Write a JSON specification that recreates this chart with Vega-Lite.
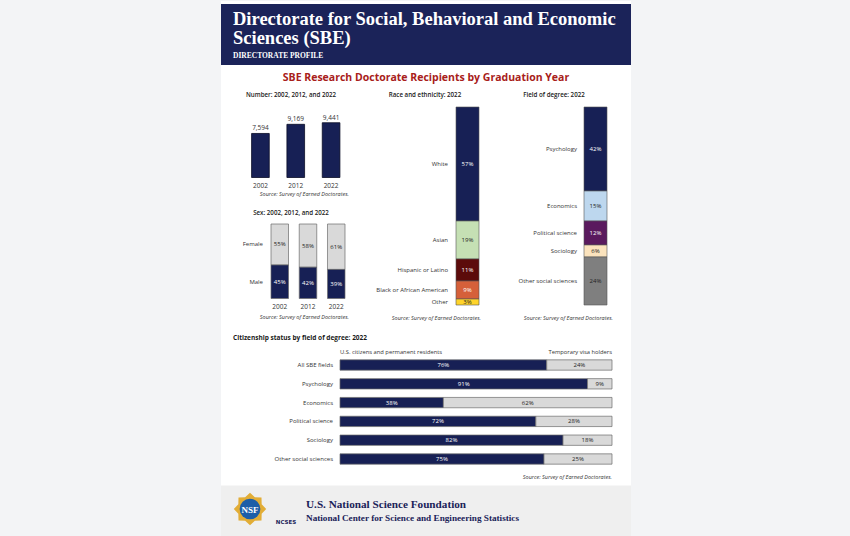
{
  "$schema": "https://vega.github.io/schema/vega-lite/v6.json",
  "width": 850,
  "height": 536,
  "autosize": {"type": "fit", "contains": "padding"},
  "padding": 0,
  "background": "#f3f4f6",
  "config": {"view": {"stroke": null}, "text": {"font": "Open Sans"}},
  "data": {"values": [{}]},
  "resolve": {"scale": {"x": "independent", "y": "independent", "color": "independent"}},
  "layer": [
    {"mark": {"type": "rect", "fill": "white", "x": 220, "x2": 630, "y": 0, "y2": 536}, "encoding": {}},
    {"mark": {"type": "rect", "fill": "#1b2359", "x": 220, "x2": 630, "y": 3, "y2": 64}, "encoding": {}},
    {"mark": {"type": "text", "text": "Directorate for Social, Behavioral and Economic", "font": "Liberation Serif", "fontSize": 18.5, "fontWeight": "bold", "color": "white", "align": "left", "baseline": "alphabetic", "x": 232, "y": 24}, "encoding": {}},
    {"mark": {"type": "text", "text": "Sciences (SBE)", "font": "Liberation Serif", "fontSize": 18.5, "fontWeight": "bold", "color": "white", "align": "left", "baseline": "alphabetic", "x": 232, "y": 43}, "encoding": {}},
    {"mark": {"type": "text", "text": "DIRECTORATE PROFILE", "font": "Liberation Serif", "fontSize": 7.5, "fontWeight": "bold", "color": "white", "align": "left", "baseline": "alphabetic", "x": 232, "y": 57}, "encoding": {}},
    {"mark": {"type": "text", "text": "SBE Research Doctorate Recipients by Graduation Year", "fontSize": 10.5, "fontWeight": "bold", "color": "#a8201a", "align": "center", "x": 425, "y": 77}, "encoding": {}},
    {"mark": {"type": "text", "text": "Number: 2002, 2012, and 2022", "fontSize": 6.2, "fontWeight": 600, "color": "#1a1a1a", "align": "center", "x": 290, "y": 94}, "encoding": {}},
    {"mark": {"type": "text", "text": "Race and ethnicity: 2022", "fontSize": 6.2, "fontWeight": 600, "color": "#1a1a1a", "align": "center", "x": 424, "y": 94}, "encoding": {}},
    {"mark": {"type": "text", "text": "Field of degree: 2022", "fontSize": 6.2, "fontWeight": 600, "color": "#1a1a1a", "align": "center", "x": 553, "y": 94}, "encoding": {}},
    {"mark": {"type": "text", "text": "Sex: 2002, 2012, and 2022", "fontSize": 6.2, "fontWeight": 600, "color": "#1a1a1a", "align": "center", "x": 290, "y": 212}, "encoding": {}},
    {"mark": {"type": "text", "text": "Citizenship status by field of degree: 2022", "fontSize": 6.5, "fontWeight": "bold", "color": "#1a1a1a", "align": "left", "x": 232, "y": 337}, "encoding": {}},
    {"mark": {"type": "text", "text": "U.S. citizens and permanent residents", "fontSize": 5.8, "color": "#333333", "align": "left", "x": 339, "y": 351}, "encoding": {}},
    {"mark": {"type": "text", "text": "Temporary visa holders", "fontSize": 5.8, "color": "#333333", "align": "right", "x": 611, "y": 351}, "encoding": {}},
    {"mark": {"type": "text", "text": "Source: Survey of Earned Doctorates.", "fontSize": 5.5, "fontStyle": "italic", "color": "#333333", "align": "right", "x": 348, "y": 193}, "encoding": {}},
    {"mark": {"type": "text", "text": "Source: Survey of Earned Doctorates.", "fontSize": 5.5, "fontStyle": "italic", "color": "#333333", "align": "right", "x": 348, "y": 316}, "encoding": {}},
    {"mark": {"type": "text", "text": "Source: Survey of Earned Doctorates.", "fontSize": 5.5, "fontStyle": "italic", "color": "#333333", "align": "right", "x": 480, "y": 317}, "encoding": {}},
    {"mark": {"type": "text", "text": "Source: Survey of Earned Doctorates.", "fontSize": 5.5, "fontStyle": "italic", "color": "#333333", "align": "right", "x": 612, "y": 317}, "encoding": {}},
    {"mark": {"type": "text", "text": "Source: Survey of Earned Doctorates.", "fontSize": 5.5, "fontStyle": "italic", "color": "#333333", "align": "right", "x": 611, "y": 476}, "encoding": {}},
    {"mark": {"type": "rule", "color": "#d6d6d6", "strokeWidth": 1.2, "x": 358, "x2": 358, "y": 88, "y2": 323}, "encoding": {}},
    {"mark": {"type": "rule", "color": "#d6d6d6", "strokeWidth": 1.2, "x": 491, "x2": 491, "y": 88, "y2": 323}, "encoding": {}},
    {"mark": {"type": "rule", "color": "#d6d6d6", "strokeWidth": 1.2, "x": 230, "x2": 352, "y": 202.5, "y2": 202.5}, "encoding": {}},
    {"mark": {"type": "rule", "color": "#d6d6d6", "strokeWidth": 1.2, "x": 228, "x2": 622, "y": 326.5, "y2": 326.5}, "encoding": {}},
    {"mark": {"type": "rule", "color": "#d0d0d0", "strokeWidth": 1.5, "x": 242, "x2": 350, "y": 176.8, "y2": 176.8}, "encoding": {}},
    {
      "data": {"values": [{"year": "2002", "n": 7594}, {"year": "2012", "n": 9169}, {"year": "2022", "n": 9441}]},
      "encoding": {
        "x": {"field": "year", "type": "nominal", "axis": null, "scale": {"range": [241.75, 347.75], "paddingInner": 0.5, "paddingOuter": 0.25}},
        "y": {"field": "n", "type": "quantitative", "axis": null, "scale": {"domain": [0, 10000], "range": [176.5, 118.5]}}
      },
      "layer": [
        {"mark": {"type": "bar", "color": "#172055", "stroke": "#0a0d26", "strokeWidth": 0.8}},
        {"mark": {"type": "text", "dy": -5, "fontSize": 6.5, "color": "#333333"}, "encoding": {"text": {"field": "n", "type": "quantitative", "format": ","}}},
        {"mark": {"type": "text", "dy": 8.5, "fontSize": 6.5, "color": "#333333"}, "encoding": {"y": {"datum": 0}, "text": {"field": "year"}}}
      ]
    },
    {
      "data": {"values": [
        {"year": "2002", "sex": "Female", "pct": 0.55}, {"year": "2002", "sex": "Male", "pct": 0.45},
        {"year": "2012", "sex": "Female", "pct": 0.58}, {"year": "2012", "sex": "Male", "pct": 0.42},
        {"year": "2022", "sex": "Female", "pct": 0.61}, {"year": "2022", "sex": "Male", "pct": 0.39}
      ]},
      "transform": [
        {"stack": "pct", "groupby": ["year"], "sort": [{"field": "sex", "order": "descending"}], "as": ["s0", "s1"]},
        {"calculate": "(datum.s0 + datum.s1) / 2", "as": "mid"}
      ],
      "encoding": {
        "x": {"field": "year", "type": "nominal", "axis": null, "scale": {"range": [270, 344], "paddingInner": 0.38, "paddingOuter": 0}}
      },
      "layer": [
        {"mark": {"type": "bar", "stroke": "#6b6b6b", "strokeWidth": 0.7},
         "encoding": {
           "y": {"field": "s0", "type": "quantitative", "axis": null, "scale": {"domain": [0, 1], "range": [297.5, 223]}},
           "y2": {"field": "s1"},
           "color": {"field": "sex", "type": "nominal", "legend": null, "scale": {"domain": ["Female", "Male"], "range": ["#d9d9d9", "#172055"]}}
         }},
        {"mark": {"type": "text", "fontSize": 6},
         "encoding": {
           "y": {"field": "mid", "type": "quantitative"},
           "text": {"field": "pct", "type": "quantitative", "format": ".0%"},
           "color": {"condition": {"test": "datum.sex === 'Male'", "value": "white"}, "value": "#222222"}
         }},
        {"transform": [{"filter": "datum.year === '2002'"}],
         "mark": {"type": "text", "fontSize": 6, "align": "right", "dx": -8, "color": "#333333"},
         "encoding": {
           "x": {"field": "year", "type": "nominal", "bandPosition": 0},
           "y": {"field": "mid", "type": "quantitative"},
           "text": {"field": "sex"}
         }},
        {"transform": [{"filter": "datum.sex === 'Male'"}],
         "mark": {"type": "text", "fontSize": 6.5, "dy": 8.5, "color": "#333333"},
         "encoding": {"y": {"datum": 0}, "text": {"field": "year"}}}
      ]
    },
    {
      "data": {"values": [
        {"year": "2022", "cat": "White", "pct": 0.57},
        {"year": "2022", "cat": "Asian", "pct": 0.19},
        {"year": "2022", "cat": "Hispanic or Latino", "pct": 0.11},
        {"year": "2022", "cat": "Black or African American", "pct": 0.09},
        {"year": "2022", "cat": "Other", "pct": 0.03}
      ]},
      "transform": [
        {"window": [{"op": "row_number", "as": "i"}]},
        {"stack": "pct", "groupby": ["year"], "sort": [{"field": "i", "order": "ascending"}], "as": ["s0", "s1"]},
        {"calculate": "(datum.s0 + datum.s1) / 2", "as": "mid"}
      ],
      "encoding": {
        "x": {"field": "year", "type": "nominal", "axis": null, "scale": {"range": [455, 478], "paddingInner": 0, "paddingOuter": 0}}
      },
      "layer": [
        {"mark": {"type": "bar", "stroke": "#555555", "strokeWidth": 0.6},
         "encoding": {
           "y": {"field": "s0", "type": "quantitative", "axis": null, "scale": {"domain": [0, 0.99], "range": [106, 306]}},
           "y2": {"field": "s1"},
           "color": {"field": "cat", "type": "nominal", "legend": null, "scale": {"domain": ["White", "Asian", "Hispanic or Latino", "Black or African American", "Other"], "range": ["#172055", "#c5e0b4", "#5c0b0b", "#d5603a", "#ffd42a"]}}
         }},
        {"mark": {"type": "text", "fontSize": 6},
         "encoding": {
           "y": {"field": "mid", "type": "quantitative"},
           "text": {"field": "pct", "type": "quantitative", "format": ".0%"},
           "color": {"condition": {"test": "indexof(['White', 'Hispanic or Latino', 'Black or African American'], datum.cat) >= 0", "value": "white"}, "value": "#222222"}
         }},
        {"mark": {"type": "text", "fontSize": 6, "align": "right", "dx": -8, "color": "#333333"},
         "encoding": {
           "x": {"field": "year", "type": "nominal", "bandPosition": 0},
           "y": {"field": "mid", "type": "quantitative"},
           "text": {"field": "cat"}
         }}
      ]
    },
    {
      "data": {"values": [
        {"year": "2022", "cat": "Psychology", "pct": 0.42},
        {"year": "2022", "cat": "Economics", "pct": 0.15},
        {"year": "2022", "cat": "Political science", "pct": 0.12},
        {"year": "2022", "cat": "Sociology", "pct": 0.06},
        {"year": "2022", "cat": "Other social sciences", "pct": 0.24}
      ]},
      "transform": [
        {"window": [{"op": "row_number", "as": "i"}]},
        {"stack": "pct", "groupby": ["year"], "sort": [{"field": "i", "order": "ascending"}], "as": ["s0", "s1"]},
        {"calculate": "(datum.s0 + datum.s1) / 2", "as": "mid"}
      ],
      "encoding": {
        "x": {"field": "year", "type": "nominal", "axis": null, "scale": {"range": [583, 606], "paddingInner": 0, "paddingOuter": 0}}
      },
      "layer": [
        {"mark": {"type": "bar", "stroke": "#555555", "strokeWidth": 0.6},
         "encoding": {
           "y": {"field": "s0", "type": "quantitative", "axis": null, "scale": {"domain": [0, 0.99], "range": [106, 306]}},
           "y2": {"field": "s1"},
           "color": {"field": "cat", "type": "nominal", "legend": null, "scale": {"domain": ["Psychology", "Economics", "Political science", "Sociology", "Other social sciences"], "range": ["#172055", "#bdd7ee", "#5a1a5e", "#fbe3bd", "#7f7f7f"]}}
         }},
        {"mark": {"type": "text", "fontSize": 6},
         "encoding": {
           "y": {"field": "mid", "type": "quantitative"},
           "text": {"field": "pct", "type": "quantitative", "format": ".0%"},
           "color": {"condition": {"test": "indexof(['Psychology', 'Political science'], datum.cat) >= 0", "value": "white"}, "value": "#222222"}
         }},
        {"mark": {"type": "text", "fontSize": 6, "align": "right", "dx": -7, "color": "#333333"},
         "encoding": {
           "x": {"field": "year", "type": "nominal", "bandPosition": 0},
           "y": {"field": "mid", "type": "quantitative"},
           "text": {"field": "cat"}
         }}
      ]
    },
    {
      "data": {"values": [
        {"field": "All SBE fields", "status": "U.S. citizens and permanent residents", "pct": 0.76},
        {"field": "All SBE fields", "status": "Temporary visa holders", "pct": 0.24},
        {"field": "Psychology", "status": "U.S. citizens and permanent residents", "pct": 0.91},
        {"field": "Psychology", "status": "Temporary visa holders", "pct": 0.09},
        {"field": "Economics", "status": "U.S. citizens and permanent residents", "pct": 0.38},
        {"field": "Economics", "status": "Temporary visa holders", "pct": 0.62},
        {"field": "Political science", "status": "U.S. citizens and permanent residents", "pct": 0.72},
        {"field": "Political science", "status": "Temporary visa holders", "pct": 0.28},
        {"field": "Sociology", "status": "U.S. citizens and permanent residents", "pct": 0.82},
        {"field": "Sociology", "status": "Temporary visa holders", "pct": 0.18},
        {"field": "Other social sciences", "status": "U.S. citizens and permanent residents", "pct": 0.75},
        {"field": "Other social sciences", "status": "Temporary visa holders", "pct": 0.25}
      ]},
      "transform": [
        {"stack": "pct", "groupby": ["field"], "sort": [{"field": "status", "order": "descending"}], "as": ["s0", "s1"]},
        {"calculate": "(datum.s0 + datum.s1) / 2", "as": "mid"}
      ],
      "encoding": {
        "y": {"field": "field", "type": "nominal", "sort": null, "axis": null, "scale": {"range": [354.6, 467.4], "paddingInner": 0.45, "paddingOuter": 0.225}}
      },
      "layer": [
        {"mark": {"type": "bar", "stroke": "#6b6b6b", "strokeWidth": 0.7},
         "encoding": {
           "x": {"field": "s0", "type": "quantitative", "axis": null, "scale": {"domain": [0, 1], "range": [339, 611]}},
           "x2": {"field": "s1"},
           "color": {"field": "status", "type": "nominal", "legend": null, "scale": {"domain": ["U.S. citizens and permanent residents", "Temporary visa holders"], "range": ["#172055", "#d9d9d9"]}}
         }},
        {"mark": {"type": "text", "fontSize": 6},
         "encoding": {
           "x": {"field": "mid", "type": "quantitative"},
           "text": {"field": "pct", "type": "quantitative", "format": ".0%"},
           "color": {"condition": {"test": "datum.status === 'U.S. citizens and permanent residents'", "value": "white"}, "value": "#222222"}
         }},
        {"transform": [{"filter": "datum.status === 'U.S. citizens and permanent residents'"}],
         "mark": {"type": "text", "fontSize": 6, "align": "right", "dx": -7, "color": "#333333"},
         "encoding": {"x": {"datum": 0}, "text": {"field": "field"}}}
      ]
    },
    {"mark": {"type": "rule", "color": "#1b2359", "strokeWidth": 2, "x": 220, "x2": 630, "y": 483, "y2": 483}, "encoding": {}},
    {"mark": {"type": "rect", "fill": "#efefef", "x": 220, "x2": 630, "y": 484.5, "y2": 536}, "encoding": {}},
    {"mark": {"type": "point", "shape": "M1,0L0.72,0.3L0.71,0.71L0.3,0.72L0,1L-0.3,0.72L-0.71,0.71L-0.72,0.3L-1,0L-0.72,-0.3L-0.71,-0.71L-0.3,-0.72L0,-1L0.3,-0.72L0.71,-0.71L0.72,-0.3Z", "filled": true, "fill": "#e2ad36", "size": 1050, "x": 249, "y": 508, "opacity": 1}, "encoding": {}},
    {"mark": {"type": "point", "shape": "circle", "filled": true, "fill": "#1d5ea8", "size": 430, "x": 249, "y": 508, "opacity": 1}, "encoding": {}},
    {"mark": {"type": "text", "text": "NSF", "font": "Liberation Serif", "fontSize": 9, "fontWeight": "bold", "color": "white", "align": "center", "x": 249, "y": 508.5}, "encoding": {}},
    {"mark": {"type": "rule", "color": "#cfcfcf", "strokeWidth": 0.8, "x": 271, "x2": 271, "y": 494, "y2": 524}, "encoding": {}},
    {"mark": {"type": "text", "text": "NCSES", "font": "DejaVu Sans", "fontSize": 5.5, "fontWeight": "bold", "color": "#1b2359", "align": "center", "x": 285, "y": 521}, "encoding": {}},
    {"mark": {"type": "text", "text": "U.S. National Science Foundation", "font": "Liberation Serif", "fontSize": 11.2, "fontWeight": "bold", "color": "#1b2359", "align": "left", "baseline": "alphabetic", "x": 305, "y": 507}, "encoding": {}},
    {"mark": {"type": "text", "text": "National Center for Science and Engineering Statistics", "font": "Liberation Serif", "fontSize": 9.2, "fontWeight": "bold", "color": "#1b2359", "align": "left", "baseline": "alphabetic", "x": 305, "y": 519.5}, "encoding": {}}
  ]
}
